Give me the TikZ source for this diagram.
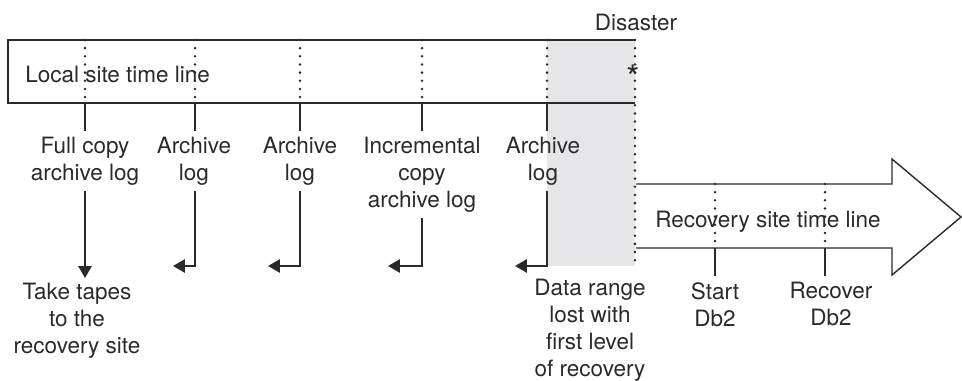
\documentclass[tikz,border=0pt]{standalone}
\usepackage{fontspec}
\setmainfont{TeX Gyre Heros}
\usetikzlibrary{arrows.meta}
\definecolor{ink}{HTML}{2A2A2A}
\definecolor{lossgray}{HTML}{E6E6E8}

\begin{document}
\begin{tikzpicture}[x=0.025cm,y=-0.025cm,
  every node/.style={font=\fontsize{16}{19.2}\selectfont,text=ink,align=center,inner sep=0pt},
  frame/.style={ink,line width=1pt},
  dots/.style={ink,line width=2pt,line cap=round,dash pattern=on 0pt off 5.8pt},
  tick/.style={ink,line width=1.1pt},
  flow/.style={ink,line width=1.1pt,-{Triangle[length=8.5pt,width=9.5pt]}}]
\useasboundingbox (0,0) rectangle (962,381);
\coordinate (boxNW) at (8,40);
\coordinate (boxSW) at (8,103);
\coordinate (disN) at (635,40);
\coordinate (disS) at (635,103);
\coordinate (lostN) at (547,40);
\coordinate (lostS) at (635,266);
\fill[lossgray] (lostN) rectangle (lostS);
\draw[frame] (disN)--(boxNW)--(boxSW)--(disS);
\draw[dots] (disN)--(lostS);
\node[anchor=west] (local) at (25,74) {Local site time line};
\node[anchor=base] (disaster) at (636,31) {Disaster};
\node[font=\fontsize{24}{24}\selectfont] (star) at (633,77) {*};
% marks on the local site time line
\coordinate (m1) at (85,40);  \coordinate (t1) at (85,103);  \coordinate (e1) at (85,131);
\coordinate (m2) at (195,40); \coordinate (t2) at (195,103); \coordinate (e2) at (195,131);
\coordinate (m3) at (300,40); \coordinate (t3) at (300,103); \coordinate (e3) at (300,131);
\coordinate (m4) at (422,40); \coordinate (t4) at (422,103); \coordinate (e4) at (422,131);
\coordinate (m5) at (547,40); \coordinate (t5) at (547,103); \coordinate (e5) at (547,131);
\draw[dots](m1)--(t1); \draw[tick](t1)--(e1);
\draw[dots](m2)--(t2); \draw[tick](t2)--(e2);
\draw[dots](m3)--(t3); \draw[tick](t3)--(e3);
\draw[dots](m4)--(t4); \draw[tick](t4)--(e4);
\draw[dots](m5)--(t5); \draw[tick](t5)--(e5);
\node[anchor=north] (fullcopy) at (85,137) {Full copy\\archive log};
\node[anchor=north] (archA) at (194,137) {Archive\\log};
\node[anchor=north] (archB) at (300,137) {Archive\\log};
\node[anchor=north] (incr) at (422,137) {Incremental\\copy\\archive log};
\node[anchor=north] (archC) at (543,137) {Archive\\log};
% arrows down to the tapes and back
\coordinate (s1) at (85,191);  \coordinate (d1) at (85,278);
\coordinate (s2) at (195,191); \coordinate (d2) at (173,266);
\coordinate (s3) at (300,191); \coordinate (d3) at (268,266);
\coordinate (s4) at (422,218); \coordinate (d4) at (388,266);
\coordinate (s5) at (547,191); \coordinate (d5) at (515,266);
\draw[flow](s1)--(d1);
\draw[flow](s2)|-(d2);
\draw[flow](s3)|-(d3);
\draw[flow](s4)|-(d4);
\draw[flow](s5)|-(d5);
\node[anchor=north] (tapes) at (77,283) {Take tapes\\to the\\recovery site};
\node[anchor=north] (lost) at (590,279) {Data range\\lost with\\first level\\of recovery};
% recovery site time line
\coordinate (r1) at (636,184);
\coordinate (r2) at (892,184);
\coordinate (r3) at (892,159);
\coordinate (r4) at (961,217);
\coordinate (r5) at (892,275);
\coordinate (r6) at (892,248);
\coordinate (r7) at (636,248);
\draw[frame,line join=miter](r1)--(r2)--(r3)--(r4)--(r5)--(r6)--(r7);
\node[anchor=base] (recsite) at (768,227) {Recovery site time line};
\coordinate (n1) at (715,184); \coordinate (u1) at (715,248); \coordinate (f1) at (715,276);
\coordinate (n2) at (825,184); \coordinate (u2) at (825,248); \coordinate (f2) at (825,276);
\draw[dots](n1)--(u1); \draw[tick](u1)--(f1);
\draw[dots](n2)--(u2); \draw[tick](u2)--(f2);
\node[anchor=north] (start) at (715,282) {Start\\Db2};
\node[anchor=north] (recover) at (831,282) {Recover\\Db2};
\end{tikzpicture}
\end{document}
